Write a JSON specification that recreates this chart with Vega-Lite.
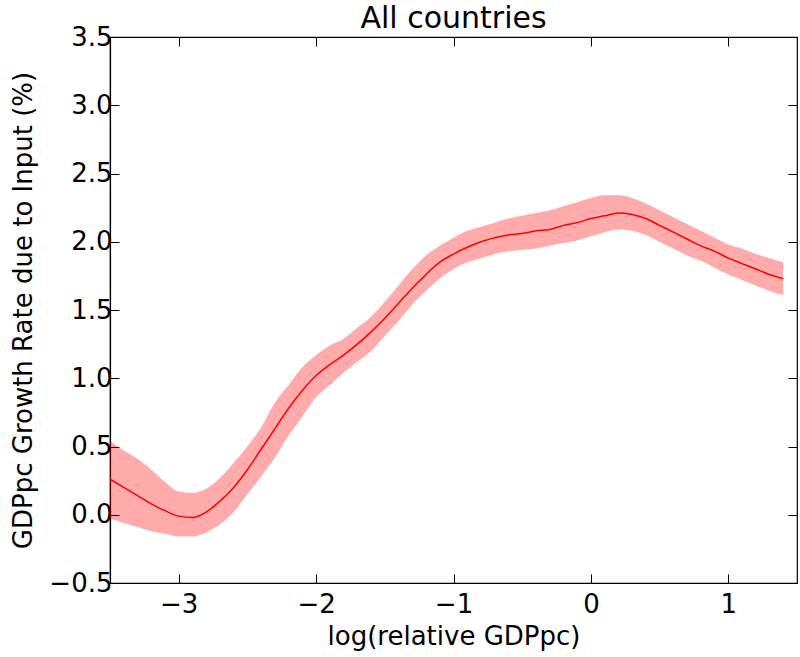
{
  "$schema": "https://vega.github.io/schema/vega-lite/v6.json",
  "width": 687,
  "height": 546,
  "autosize": "none",
  "padding": {"left": 110, "top": 37, "right": 3, "bottom": 74},
  "background": "white",
  "title": {"text": "All countries", "font": "DejaVu Sans", "fontSize": 30, "fontWeight": "normal", "color": "black", "offset": -10},
  "config": {
    "view": {"stroke": "black", "strokeWidth": 1.2},
    "axis": {
      "domainColor": "black", "tickColor": "black", "labelColor": "black", "titleColor": "black",
      "labelFont": "DejaVu Sans", "titleFont": "DejaVu Sans", "labelFontSize": 26, "titleFontSize": 26,
      "titleFontWeight": "normal", "grid": false, "tickSize": -9, "tickWidth": 1, "domainWidth": 1.2
    }
  },
  "data": {"values": [
    {"x": -3.5, "y": 0.26, "lo": -0.03, "hi": 0.54},
    {"x": -3.4, "y": 0.2, "lo": -0.06, "hi": 0.47},
    {"x": -3.3, "y": 0.14, "lo": -0.09, "hi": 0.41},
    {"x": -3.2, "y": 0.08, "lo": -0.12, "hi": 0.33},
    {"x": -3.1, "y": 0.03, "lo": -0.14, "hi": 0.24},
    {"x": -3.0, "y": -0.01, "lo": -0.16, "hi": 0.17},
    {"x": -2.9, "y": -0.02, "lo": -0.16, "hi": 0.16},
    {"x": -2.8, "y": 0.02, "lo": -0.13, "hi": 0.19},
    {"x": -2.7, "y": 0.1, "lo": -0.07, "hi": 0.27},
    {"x": -2.6, "y": 0.2, "lo": 0.02, "hi": 0.38},
    {"x": -2.5, "y": 0.33, "lo": 0.15, "hi": 0.5},
    {"x": -2.4, "y": 0.48, "lo": 0.28, "hi": 0.64},
    {"x": -2.3, "y": 0.63, "lo": 0.42, "hi": 0.82},
    {"x": -2.2, "y": 0.78, "lo": 0.58, "hi": 0.95},
    {"x": -2.1, "y": 0.91, "lo": 0.72, "hi": 1.08},
    {"x": -2.0, "y": 1.02, "lo": 0.86, "hi": 1.17},
    {"x": -1.9, "y": 1.1, "lo": 0.95, "hi": 1.24},
    {"x": -1.8, "y": 1.17, "lo": 1.04, "hi": 1.29},
    {"x": -1.7, "y": 1.25, "lo": 1.12, "hi": 1.37},
    {"x": -1.6, "y": 1.34, "lo": 1.2, "hi": 1.45},
    {"x": -1.5, "y": 1.44, "lo": 1.31, "hi": 1.56},
    {"x": -1.4, "y": 1.55, "lo": 1.42, "hi": 1.68},
    {"x": -1.3, "y": 1.66, "lo": 1.54, "hi": 1.8},
    {"x": -1.2, "y": 1.76, "lo": 1.64, "hi": 1.9},
    {"x": -1.1, "y": 1.85, "lo": 1.73, "hi": 1.97},
    {"x": -1.0, "y": 1.91, "lo": 1.8, "hi": 2.03},
    {"x": -0.9, "y": 1.96, "lo": 1.85, "hi": 2.08},
    {"x": -0.8, "y": 2.0, "lo": 1.88, "hi": 2.11},
    {"x": -0.7, "y": 2.03, "lo": 1.91, "hi": 2.14},
    {"x": -0.6, "y": 2.05, "lo": 1.93, "hi": 2.17},
    {"x": -0.5, "y": 2.06, "lo": 1.94, "hi": 2.19},
    {"x": -0.4, "y": 2.08, "lo": 1.95, "hi": 2.21},
    {"x": -0.3, "y": 2.09, "lo": 1.97, "hi": 2.23},
    {"x": -0.2, "y": 2.12, "lo": 1.99, "hi": 2.26},
    {"x": -0.1, "y": 2.14, "lo": 2.01, "hi": 2.29},
    {"x": 0.0, "y": 2.17, "lo": 2.04, "hi": 2.32},
    {"x": 0.1, "y": 2.19, "lo": 2.07, "hi": 2.34},
    {"x": 0.2, "y": 2.21, "lo": 2.09, "hi": 2.34},
    {"x": 0.3, "y": 2.2, "lo": 2.08, "hi": 2.32},
    {"x": 0.4, "y": 2.17, "lo": 2.05, "hi": 2.28},
    {"x": 0.5, "y": 2.12, "lo": 2.0, "hi": 2.23},
    {"x": 0.6, "y": 2.07, "lo": 1.95, "hi": 2.18},
    {"x": 0.7, "y": 2.02, "lo": 1.9, "hi": 2.13},
    {"x": 0.8, "y": 1.97, "lo": 1.86, "hi": 2.08},
    {"x": 0.9, "y": 1.93, "lo": 1.81, "hi": 2.03},
    {"x": 1.0, "y": 1.88, "lo": 1.76, "hi": 1.98},
    {"x": 1.1, "y": 1.84, "lo": 1.72, "hi": 1.95},
    {"x": 1.2, "y": 1.8, "lo": 1.68, "hi": 1.91},
    {"x": 1.3, "y": 1.76, "lo": 1.64, "hi": 1.88},
    {"x": 1.4, "y": 1.73, "lo": 1.61, "hi": 1.85}
  ]},
  "resolve": {"axis": {"x": "independent", "y": "independent"}},
  "layer": [
    {
      "mark": {"type": "area", "color": "red", "opacity": 0.33, "interpolate": "monotone"},
      "encoding": {
        "x": {"field": "x", "type": "quantitative", "scale": {"domain": [-3.5, 1.5], "nice": false, "zero": false},
              "axis": {"title": "log(relative GDPpc)", "values": [-3, -2, -1, 0, 1], "format": "d", "labelPadding": 17, "titlePadding": 6}},
        "y": {"field": "lo", "type": "quantitative", "scale": {"domain": [-0.5, 3.5], "nice": false, "zero": false},
              "axis": {"title": "GDPpc Growth Rate due to Input (%)", "values": [-0.5, 0, 0.5, 1, 1.5, 2, 2.5, 3, 3.5], "format": ".1f", "labelPadding": 7, "titlePadding": 12}},
        "y2": {"field": "hi"}
      }
    },
    {
      "mark": {"type": "line", "color": "red", "strokeWidth": 1.5, "interpolate": "monotone"},
      "encoding": {
        "x": {"field": "x", "type": "quantitative",
              "axis": {"orient": "top", "title": null, "labels": false, "values": [-3, -2, -1, 0, 1], "domain": false}},
        "y": {"field": "y", "type": "quantitative",
              "axis": {"orient": "right", "title": null, "labels": false, "values": [-0.5, 0, 0.5, 1, 1.5, 2, 2.5, 3, 3.5], "domain": false}}
      }
    }
  ]
}
